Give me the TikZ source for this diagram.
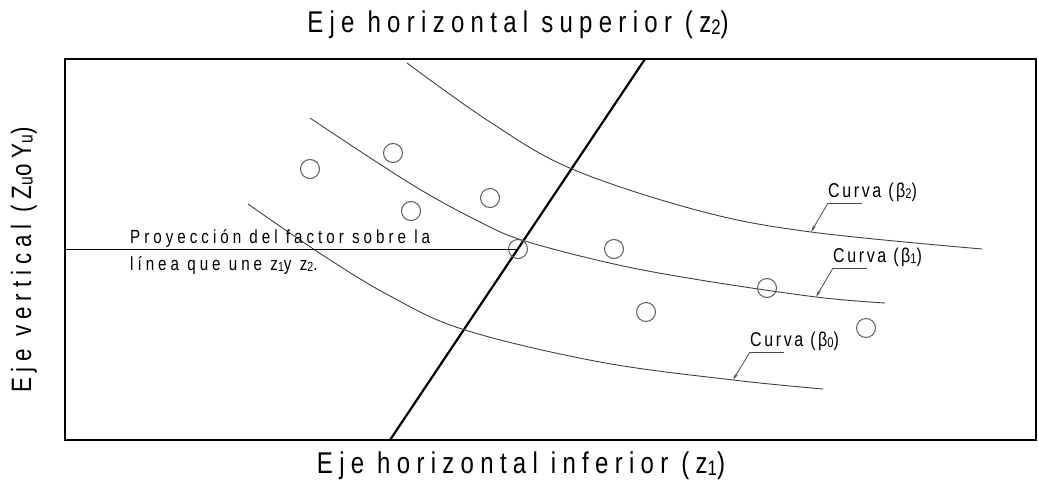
\documentclass[tikz,border=0pt]{standalone}
\usepackage{fontspec}
\setmainfont[FakeStretch=0.8,LetterSpace=21]{Liberation Sans}
\newfontfamily\labfont[FakeStretch=0.8,LetterSpace=13]{Liberation Sans}
\usetikzlibrary{arrows.meta}
\newcommand{\idx}[1]{\raisebox{-0.1ex}{\scalebox{0.7}{#1}}}

\begin{document}
\begin{tikzpicture}[x=1pt,y=-1pt,
  frame/.style={line width=2.6pt},
  axisline/.style={line width=2.2pt},
  curve/.style={line width=0.9pt,black!75},
  obs/.style={circle,draw=black!65,line width=1pt,minimum size=19pt,inner sep=0pt},
  leader/.style={line width=0.8pt,black!70},
  tip/.style={-{Stealth[length=7pt,width=3pt]}},
  title/.style={font=\fontsize{30}{32}\selectfont,inner sep=0pt},
  lab/.style={font=\labfont\fontsize{20}{22}\selectfont,inner sep=0pt,anchor=base west},
  note/.style={font=\fontsize{19}{27}\selectfont,align=left,inner sep=0pt,anchor=base west}]
\useasboundingbox (0,0) rectangle (1038,487);
% axis titles
\node[title] (top) at (518,25) {Eje horizontal superior (z\idx{2})};
\node[title] (bot) at (521,466) {Eje horizontal inferior (z\idx{1})};
\node[title,font=\fontsize{28}{30}\selectfont,rotate=90] (ver) at (24,260) {Eje vertical (Z\idx{u}oY\idx{u})};
% frame and the line z1 -- z2
\draw[frame] (65,59) rectangle (1036,440);
\coordinate (z1) at (390,440);
\coordinate (z2) at (645,59);
\draw[axisline] (z1) -- (z2);
% curves
\draw[curve] plot[smooth,tension=0.6] coordinates {(407,63) (490,122) (572,169) (700,211) (811,232) (982,249)};
\draw[curve] plot[smooth,tension=0.6] coordinates {(310,118) (411,184) (480,222) (525,241) (614,264) (700,280) (816,297) (885,303)};
\draw[curve] plot[smooth,tension=0.6] coordinates {(248,204) (321,254) (390,296) (465,330) (600,362) (733,380) (823,389)};
% observations
\node[obs] (o1) at (310,169) {};
\node[obs] (o2) at (393,153) {};
\node[obs] (o3) at (411,211) {};
\node[obs] (o4) at (490,198) {};
\node[obs] (o5) at (518,249) {};
\node[obs] (o6) at (614,249) {};
\node[obs] (o7) at (646,312) {};
\node[obs] (o8) at (767,288) {};
\node[obs] (o9) at (866,328) {};
% projection
\coordinate (lft) at (65,249);
\draw[line width=1pt] (lft) -- (o5.center);
\node[note] (proj) at (130,270) {Proyección del factor sobre la\\línea que une z\idx{1}y z\idx{2}.};
% curve labels
\coordinate (c2) at (811,232);
\coordinate (u2) at (828,203);
\coordinate (c1) at (816,297);
\coordinate (u1) at (833,268);
\coordinate (c0) at (733,380);
\coordinate (u0) at (750,352);
\node[lab] (lb2) at ([yshift=6pt]u2) {Curva (β\idx{2})};
\node[lab] (lb1) at ([yshift=6pt]u1) {Curva (β\idx{1})};
\node[lab] (lb0) at ([yshift=6pt]u0) {Curva (β\idx{0})};
\draw[leader] ([xshift=34pt]u2) -- (u2);
\draw[leader,tip] (u2) -- (c2);
\draw[leader] ([xshift=34pt]u1) -- (u1);
\draw[leader,tip] (u1) -- (c1);
\draw[leader] ([xshift=34pt]u0) -- (u0);
\draw[leader,tip] (u0) -- (c0);
\end{tikzpicture}
\end{document}
